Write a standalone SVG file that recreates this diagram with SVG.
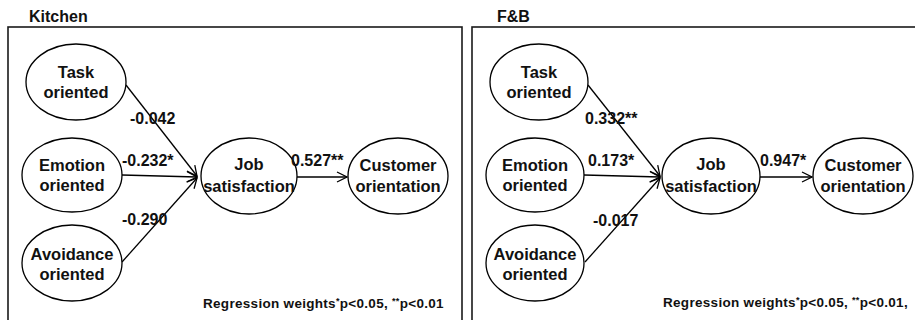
<svg xmlns="http://www.w3.org/2000/svg" width="915" height="320" viewBox="0 0 915 320">
  <defs>
    <style>
      .frame { fill: none; stroke: #1a1a1a; stroke-width: 1.6; }
      .node ellipse { fill: #ffffff; stroke: #000000; stroke-width: 1.3; }
      .ntext { font-family: "Liberation Sans", Arial, sans-serif; font-weight: bold; font-size: 16.5px; fill: #111; text-anchor: middle; }
      .title { font-family: "Liberation Sans", Arial, sans-serif; font-weight: bold; font-size: 16px; fill: #111; }
      .lbl { font-family: "Liberation Sans", Arial, sans-serif; font-weight: bold; font-size: 16px; fill: #111; }
      .note { font-family: "Liberation Sans", Arial, sans-serif; font-weight: bold; font-size: 13.5px; letter-spacing: 0.3px; fill: #111; }
      .sup { font-size: 9px; }
      .conn line { stroke: #000; stroke-width: 1.3; fill: none; marker-end: url(#arr); }
    </style>
    <marker id="arr" viewBox="0 0 12 12" refX="11" refY="6" markerWidth="12" markerHeight="12" markerUnits="userSpaceOnUse" orient="auto">
      <path d="M1,1 L11,6 L1,11" fill="none" stroke="#000" stroke-width="1.3"/>
    </marker>
  </defs>
  <rect width="915" height="320" fill="#ffffff"/>

  <!-- Left panel: Kitchen -->
  <text class="title" x="29" y="22">Kitchen</text>
  <rect class="frame" x="8" y="27" width="454" height="310"/>

  <g class="conn" id="kitchen-connectors">
    <line x1="126" y1="85" x2="197" y2="176"/>
    <line x1="122" y1="175" x2="197" y2="177"/>
    <line x1="122" y1="262" x2="197" y2="178"/>
    <line x1="297" y1="177" x2="347" y2="177"/>
  </g>

  <g class="node" id="k-task">
    <ellipse cx="76" cy="82" rx="50" ry="38"/>
    <text class="ntext" x="76" y="78">Task</text>
    <text class="ntext" x="76" y="98">oriented</text>
  </g>
  <g class="node" id="k-emotion">
    <ellipse cx="72" cy="175" rx="50" ry="37"/>
    <text class="ntext" x="72" y="171">Emotion</text>
    <text class="ntext" x="72" y="191">oriented</text>
  </g>
  <g class="node" id="k-avoid">
    <ellipse cx="72" cy="263" rx="50" ry="38"/>
    <text class="ntext" x="72" y="260">Avoidance</text>
    <text class="ntext" x="72" y="280">oriented</text>
  </g>
  <g class="node" id="k-job">
    <ellipse cx="249" cy="176" rx="48" ry="38"/>
    <text class="ntext" x="249" y="170">Job</text>
    <text class="ntext" x="249" y="192">satisfaction</text>
  </g>
  <g class="node" id="k-cust">
    <ellipse cx="398" cy="176" rx="50" ry="38"/>
    <text class="ntext" x="398" y="171">Customer</text>
    <text class="ntext" x="398" y="192">orientation</text>
  </g>

  <text class="lbl" x="130" y="124">-0.042</text>
  <text class="lbl" x="122" y="166">-0.232*</text>
  <text class="lbl" x="291" y="166">0.527**</text>
  <text class="lbl" x="122" y="225">-0.290</text>
  <text class="note" x="203" y="308">Regression weights<tspan class="sup" dy="-4">*</tspan><tspan dy="4">p&lt;0.05, </tspan><tspan class="sup" dy="-4">**</tspan><tspan dy="4">p&lt;0.01</tspan></text>

  <!-- Right panel: F&B -->
  <text class="title" x="497" y="22">F&amp;B</text>
  <rect class="frame" x="472" y="27" width="460" height="310"/>

  <g class="conn" id="fb-connectors">
    <line x1="588" y1="85" x2="660" y2="176"/>
    <line x1="584" y1="175" x2="660" y2="177"/>
    <line x1="585" y1="262" x2="660" y2="178"/>
    <line x1="760" y1="177" x2="812" y2="177"/>
  </g>

  <g class="node" id="f-task">
    <ellipse cx="539" cy="82" rx="49" ry="38"/>
    <text class="ntext" x="539" y="78">Task</text>
    <text class="ntext" x="539" y="98">oriented</text>
  </g>
  <g class="node" id="f-emotion">
    <ellipse cx="535" cy="175" rx="49" ry="37"/>
    <text class="ntext" x="535" y="171">Emotion</text>
    <text class="ntext" x="535" y="191">oriented</text>
  </g>
  <g class="node" id="f-avoid">
    <ellipse cx="535" cy="263" rx="49" ry="38"/>
    <text class="ntext" x="535" y="260">Avoidance</text>
    <text class="ntext" x="535" y="280">oriented</text>
  </g>
  <g class="node" id="f-job">
    <ellipse cx="711" cy="176" rx="49" ry="38"/>
    <text class="ntext" x="711" y="170">Job</text>
    <text class="ntext" x="711" y="192">satisfaction</text>
  </g>
  <g class="node" id="f-cust">
    <ellipse cx="863" cy="176" rx="50" ry="38"/>
    <text class="ntext" x="863" y="171">Customer</text>
    <text class="ntext" x="863" y="192">orientation</text>
  </g>

  <text class="lbl" x="585" y="124">0.332**</text>
  <text class="lbl" x="588" y="166">0.173*</text>
  <text class="lbl" x="760" y="166">0.947*</text>
  <text class="lbl" x="593" y="226">-0.017</text>
  <text class="note" x="663" y="307">Regression weights<tspan class="sup" dy="-4">*</tspan><tspan dy="4">p&lt;0.05, </tspan><tspan class="sup" dy="-4">**</tspan><tspan dy="4">p&lt;0.01,</tspan></text>
</svg>
